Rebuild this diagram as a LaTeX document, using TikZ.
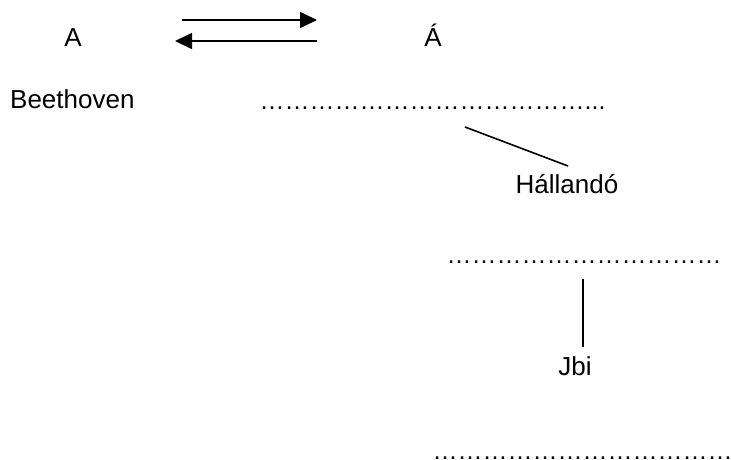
\documentclass[tikz,border=0pt]{standalone}
\usepackage{fontspec}
\setmainfont{Liberation Sans}
\usetikzlibrary{arrows.meta}

\newcommand{\dotrun}[1]{\foreach \k in {1,...,#1}{…}}

\tikzset{
  lbl/.style={inner sep=0pt, anchor=base, font=\fontsize{26}{30}\selectfont},
  dotrow/.style={lbl, anchor=base west, font=\fontsize{25}{30}\selectfont},
  arr/.style={line width=1.6pt, -{Triangle[length=17pt,width=16pt]}},
  tie/.style={line width=1.6pt}
}

\begin{document}
\begin{tikzpicture}[x=1pt,y=-1pt]
            \useasboundingbox (0,0) rectangle (731,460);

            % Reaction
            \node[lbl] (a) at (73,47) {A};
            \node[lbl] (aacute) at (433,47) {Á};
            \coordinate (fwdstart) at (182,20);
            \coordinate (fwdend) at (317,20);
            \coordinate (backstart) at (317,41);
            \coordinate (backend) at (175,41);
            \draw[arr] (fwdstart) -- (fwdend);
            \draw[arr] (backstart) -- (backend);

            % First row
            \node[lbl, anchor=base west] (beethoven) at (10,108) {Beethoven};
            \node[dotrow] (dotsone) at (259.5,109.5) {\dotrun{13}...};

            % Hallando
            \coordinate (haltop) at (465,127);
            \coordinate (halbot) at (568,166);
            \draw[tie] (haltop) -- (halbot);
            \node[lbl] (hallando) at (567,193) {Hállandó};

            \node[dotrow] (dotstwo) at (446.5,263.5) {\dotrun{11}};

            % Jbi
            \coordinate (jbitop) at (583,279);
            \coordinate (jbibot) at (583,347);
            \draw[tie] (jbitop) -- (jbibot);
            \node[lbl] (jbi) at (575,375) {Jbi};

            \node[dotrow] (dotsthree) at (432.5,459.5) {\dotrun{12}};

\end{tikzpicture}
\end{document}
